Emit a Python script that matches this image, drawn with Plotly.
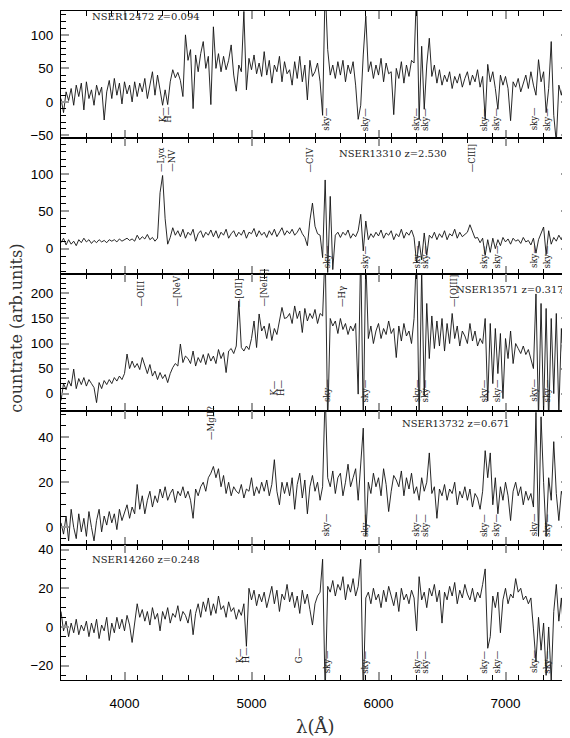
import numpy as np
import plotly.graph_objects as go

# wavelength grid of the spectra (Angstrom)
wave = np.arange(3500, 7501, 20)

# spectra, one value every 20 A (rows of 200 A)
flux_12472 = [
    5, -16, 15, 2, 20, -5, 25, 8, 28, -12,
    30, 5, 18, -5, 25, 10, 22, -27, 15, 32,
    5, 35, 10, 28, -3, 30, 12, 25, 0, 30,
    8, 28, 15, 35, 5, 25, 45, 10, 40, 18,
    -5, 18, -4, 30, 48, 36, 44, 32, 8, 100,
    62, 78, -10, 70, 45, 72, 90, 50, 68, -4,
    112, 50, 72, 45, 68, 48, 62, 85, 40, 16,
    55, 45, 135, 18, 65, 48, 70, 42, 58, 38,
    75, 40, 62, 28, 55, 45, 68, 30, 60, 42,
    48, 25, 60, 35, 68, 30, 55, 3, 62, 38,
    45, 58, 30, -20, 175, 78, 40, 55, 35, 60,
    40, 62, 30, 55, 42, 60, 25, -26, -5, 70,
    128, 45, 60, 35, 55, 40, 65, 30, 58, 42,
    45, -19, 50, 35, 60, 28, 55, 38, 62, 58,
    170, -26, 83, -11, 55, 95, 38, 55, 28, 48,
    25, 40, 30, 45, 20, 38, 28, 42, 22, 35,
    45, 25, 40, 30, 48, 22, 38, -26, 56, 30,
    45, 20, -11, 40, 25, 38, 20, -28, 30, 22,
    35, 15, 28, 40, 20, 45, 25, 10, 63, 30,
    45, -16, 20, 90, -20, -60, 25, 10, 30, 15,
    25,
]
flux_13310 = [
    8, 14, 5, 12, 6, 10, 4, 12, 8, 14,
    9, 12, 7, 11, 8, 12, 9, 11, 8, 12,
    10, 12, 9, 13, 10, 12, 14, 11, 13, 10,
    18, 12, 16, 13, 19, 12, 15, 10, 14, 75,
    98, 40, 6, 15, 28, 18, 24, 16, 26, 14,
    22, 18, 26, 10, 20, 24, 15, 22, 18, 25,
    16, 24, 14, 22, 18, 26, 14, 20, 24, 16,
    22, 18, 25, 14, 22, 20, 27, 16, 24, 18,
    22, 15, 24, 18, 26, 16, 22, 28, 18, 24,
    20, 26, 18, 22, 28, 20, 15, 4, 38, 61,
    30, 20, 18, -12, 92, -32, 70, -28, 18, 22,
    15, 22, 18, 25, 14, 20, 16, 24, 46, -3,
    37, 12, 20, 15, 22, 17, 25, 14, 21, 18,
    24, 12, 20, 16, 26, 14, 22, 18, 25, 15,
    -19, 10, -15, 21, -9, 18, 14, 22, 12, 20,
    15, 24, 12, 20, 17, 26, 14, 22, 16, 19,
    22, 32, 24, 14, 15, 8, 14, -9, 12, -5,
    14, 0, 12, 4, 15, 9, 13, 6, 14, 10,
    12, 7, 15, 9, 11, 5, 14, -6, 12, 20,
    29, -8, 24, 6, 15, 10, 18, 12, 22, 14,
    18,
]
flux_13571 = [
    -14, 20, 8, 26, 15, 49, 10, 30, 18, 32,
    15, 28, 20, 12, -18, 22, 10, 26, 18, 28,
    20, 32, 25, 35, 28, 40, 79, 50, 65, 52,
    60, 48, 72, 55, 40, 58, 35, 45, 28, 42,
    30, 38, 22, 40, 52, 60, 55, 99, 62, 75,
    70, 60, 85, 55, 72, 62, 78, 58, 80, 65,
    75, 60, 88, 70, 82, 42, 85, 90, 80, 95,
    185, 92, 85, 95, 88, 110, 145, 92, 159, 125,
    135, 110, 140, 106, 130, 118, 145, 172, 150, 152,
    160, 140, 175, 150, 165, 122, 170, 145, 160, 150,
    168, 140, 160, 155, 290, -60, 150, 135, 145, 120,
    150, 128, 140, 118, 135, 125, 140, -1, 290, -60,
    270, 110, 135, 100, 125, 140, 110, 130, 118, 145,
    120, 130, 72, 135, 105, 140, 115, 125, 100, 150,
    290, -60, 250, -5, 180, 70, 155, 90, 145, 95,
    150, 85, 140, 100, 160, 110, 135, 95, 125, 115,
    100, 140, 105, 125, 95, 110, 100, 150, -15, 140,
    20, 130, 40, 120, -10, 110, 70, 125, 60, 100,
    90, 80, 95, 78, 88, 70, 50, 199, -50, 180,
    -40, 170, -60, 150, 0, 160, -40, 130, 20, 110,
    90,
]
flux_13732 = [
    2, -3, 5, -6, 8, 0, -5, 6, -2, 4,
    -4, 7, 0, -6, 3, 8, -2, 5, 1, 7,
    2, 6, -1, 8, 3, 7, 10, 4, 9, 6,
    19, 8, 14, 6, 12, 16, 9, 14, 11, 17,
    13, 18, 12, 15, 17, 11, 16, 14, 18, 13,
    16, 12, 4, 17, 14, 18, 20, 16, 22, 24,
    27, 22, 26, 18, 23, 15, 20, 14, 18, 16,
    15, 19, 13, 17, 16, 22, 14, 18, 15, 20,
    16, 21, 14, 19, 30, 16, 10, 20, 15, 20,
    14, 22, 8, 19, 24, 13, 21, 6, 18, 23,
    16, 20, 12, 18, 60, 22, 18, 25, 15, 22,
    24, 14, 20, 28, 18, 22, 26, 12, 30, 44,
    -4, 20, 15, 24, 18, 22, 14, 26, 19, 7,
    16, 23, 21, 18, 25, 14, 22, 17, 24, 15,
    18, 12, 22, 16, 20, 33, 15, 18, 4, 17,
    14, 19, 12, 17, 15, 20, 10, 16, 13, 18,
    12, 17, 9, 15, 13, 8, 16, 34, 22, 33,
    10, 22, 6, 18, 12, 20, 14, 3, 16, 20,
    14, 18, 10, 16, 12, 15, 9, 51, -4, 49,
    20, -4, 22, 12, 38, 15, 3, 16, 12, 20,
    17,
]
flux_14260 = [
    8, -2, 3, -5, 2, -3, 4, -4, 1, -2,
    3, -5, 2, -3, 4, -6, 1, -2, 5, -7,
    2, -3, 5, -1, 4, -2, 6, 1, -8, 3,
    12, 5, 9, 3, 8, 1, 10, 4, 7, -2,
    8, 4, 10, 2, 7, 5, 11, 3, 8, 6,
    2, 9, -4, 7, 12, 5, 13, 8, 15, 6,
    12, 7, 16, 9, 11, 5, 13, 8, 10, 4,
    9, 6, 12, -10, 20, 14, 19, 11, 17, 13,
    18, 10, 16, 21, 12, 19, 8, 17, 14, 22,
    13, 18, 10, 16, 7, 19, 12, 17, 9, 1,
    12, 16, 18, 35, -35, 21, 18, 24, 16, 22,
    19, 26, 14, 22, 18, 25, 16, 21, 35, -35,
    15, 18, 12, 20, 14, 17, 10, 19, 13, 21,
    16, 11, 18, 8, 20, 14, 17, 12, 19, 15,
    -2, 26, 14, 18, 10, 20, 16, 22, 13, 19,
    2, 18, 14, 21, 16, 23, 12, 19, 15, 22,
    17, 14, 20, 13, 18, 15, 22, 30, -11, -5,
    16, 10, 18, -3, 14, 20, 12, 17, 15, 25,
    18, 20, 14, 16, 12, 15, -1, -18, 5, -12,
    2, -25, 0, -28, 8, 22, 3, 15, -5, 10,
    -8,
]

names = ["NSER12472 z=0.094", "NSER13310 z=2.530", "NSER13571 z=0.317",
         "NSER13732 z=0.671", "NSER14260 z=0.248"]

sky_lines = [5590, 5893, 6300, 6365, 6830, 6930, 7225, 7325]

# identified features per spectrum: (label, observed wavelength)
emission_lines = [
    [],
    [("Lyα", 4292), ("NV", 4377), ("CIV", 5468), ("CIII]", 6739)],
    [("OIII", 4126), ("[NeV]", 4410), ("[OII]", 4908), ("[NeIII]", 5095),
     ("Hγ", 5716), ("[OIII]", 6594)],
    [("MgII?", 4676)],
    [],
]
absorption_lines = [
    [("K", 4304), ("H", 4342)],
    [],
    [("K", 5181), ("H", 5227)],
    [],
    [("K", 4910), ("H", 4953), ("G", 5371)],
]

spectra = [flux_12472, flux_13310, flux_13571, flux_13732, flux_14260]
for s in spectra:
    assert len(s) == len(wave), len(s)

# layout of the five stacked panels (paper fractions, top panel first)
bounds = [1.0, 0.8095, 0.6067, 0.4028, 0.2019, 0.0]
y_ranges = [[-54.5, 135.6], [-34.1, 147.6], [-33.8, 238.6],
            [-7.8, 51.8], [-27.4, 42.4]]
y_major = [50, 50, 50, 20, 20]
y_minor = [10, 10, 10, 5, 5]
# name label position and which side of the text it pins
name_pos = [(3728, 127, "left"), (5673, 128, "left"), (7478, 208, "right"),
            (6169, 46, "left"), (3728, 35, "left")]
sky_base = [-46, -29, -21, -5, -25]
em_base = [0, 100, 169, 38, 0]
abs_base = [-34, 0, -8, 0, -20]

serif = "DejaVu Serif"
sans = "Liberation Sans"

fig = go.Figure()
n = len(spectra)
annotations = []
for k in range(n):
    i = k + 1
    fig.add_trace(go.Scatter(
        x=wave, y=spectra[k], mode="lines",
        line=dict(color="#111111", width=0.9),
        xaxis=f"x{i}", yaxis=f"y{i}", showlegend=False,
    ))
    xa = dict(
        domain=[0, 1], anchor=f"y{i}", range=[3500, 7500],
        showgrid=False, zeroline=False,
        showline=True, linecolor="black", linewidth=1, mirror="ticks",
        ticks="inside", ticklen=8, tickwidth=2, tickcolor="#999999",
        tickvals=[4000, 5000, 6000, 7000],
        minor=dict(dtick=200, tick0=3500, ticks="inside", ticklen=5,
                   tickwidth=1, tickcolor="black"),
        showticklabels=(i == n),
        tickfont=dict(family=sans, size=13.5, color="black"),
        ticklabelstandoff=11,
    )
    if i > 1:
        xa["matches"] = "x"
    ya = dict(
        domain=[bounds[k + 1], bounds[k]], anchor=f"x{i}", range=y_ranges[k],
        showgrid=False, zeroline=False,
        showline=True, linecolor="black", linewidth=1, mirror="ticks",
        ticks="inside", ticklen=8, tickwidth=2, tickcolor="#999999",
        dtick=y_major[k], tick0=0,
        minor=dict(dtick=y_minor[k], ticks="inside", ticklen=5,
                   tickwidth=1, tickcolor="black"),
        tickfont=dict(family=sans, size=13.5, color="black"),
        ticklabelstandoff=4,
    )
    fig.update_layout(**{("xaxis" if i == 1 else f"xaxis{i}"): xa,
                         ("yaxis" if i == 1 else f"yaxis{i}"): ya})

    label_font = dict(family=serif, size=8.5, color="#222222")
    nx, ny, side = name_pos[k]
    annotations.append(dict(
        x=nx, y=ny, xref=f"x{i}", yref=f"y{i}",
        text=names[k], showarrow=False, xanchor=side, yanchor="middle",
        font=dict(family=serif, size=10, color="#222222"),
    ))
    for wl in sky_lines:
        annotations.append(dict(
            x=wl, y=sky_base[k], xref=f"x{i}", yref=f"y{i}", text="sky—",
            textangle=-90, showarrow=False, xanchor="center",
            yanchor="bottom", font=label_font,
        ))
    for lab, wl in emission_lines[k]:
        annotations.append(dict(
            x=wl, y=em_base[k], xref=f"x{i}", yref=f"y{i}", text="—" + lab,
            textangle=-90, showarrow=False, xanchor="center",
            yanchor="bottom", font=label_font,
        ))
    for lab, wl in absorption_lines[k]:
        annotations.append(dict(
            x=wl, y=abs_base[k], xref=f"x{i}", yref=f"y{i}", text=lab + "—",
            textangle=-90, showarrow=False, xanchor="center",
            yanchor="bottom", font=label_font,
        ))

# axis titles
annotations.append(dict(
    x=-0.0866, y=0.525, xref="paper", yref="paper",
    text="countrate (arb.units)", textangle=-90, showarrow=False,
    xanchor="center", yanchor="middle",
    font=dict(family=serif, size=16, color="#333333"),
))
annotations.append(dict(
    x=0.5, y=-0.07, xref="paper", yref="paper", text="λ(Å)",
    showarrow=False, xanchor="center", yanchor="middle",
    font=dict(family=serif, size=18, color="#333333"),
))

# the page adds an 8px body margin, so the figure is sized to fit inside it
fig.update_layout(
    width=562, height=730,
    margin=dict(l=53, r=1, t=0, b=58),
    paper_bgcolor="white", plot_bgcolor="white",
    annotations=annotations,
    showlegend=False,
)

fig.write_html("out.html")
